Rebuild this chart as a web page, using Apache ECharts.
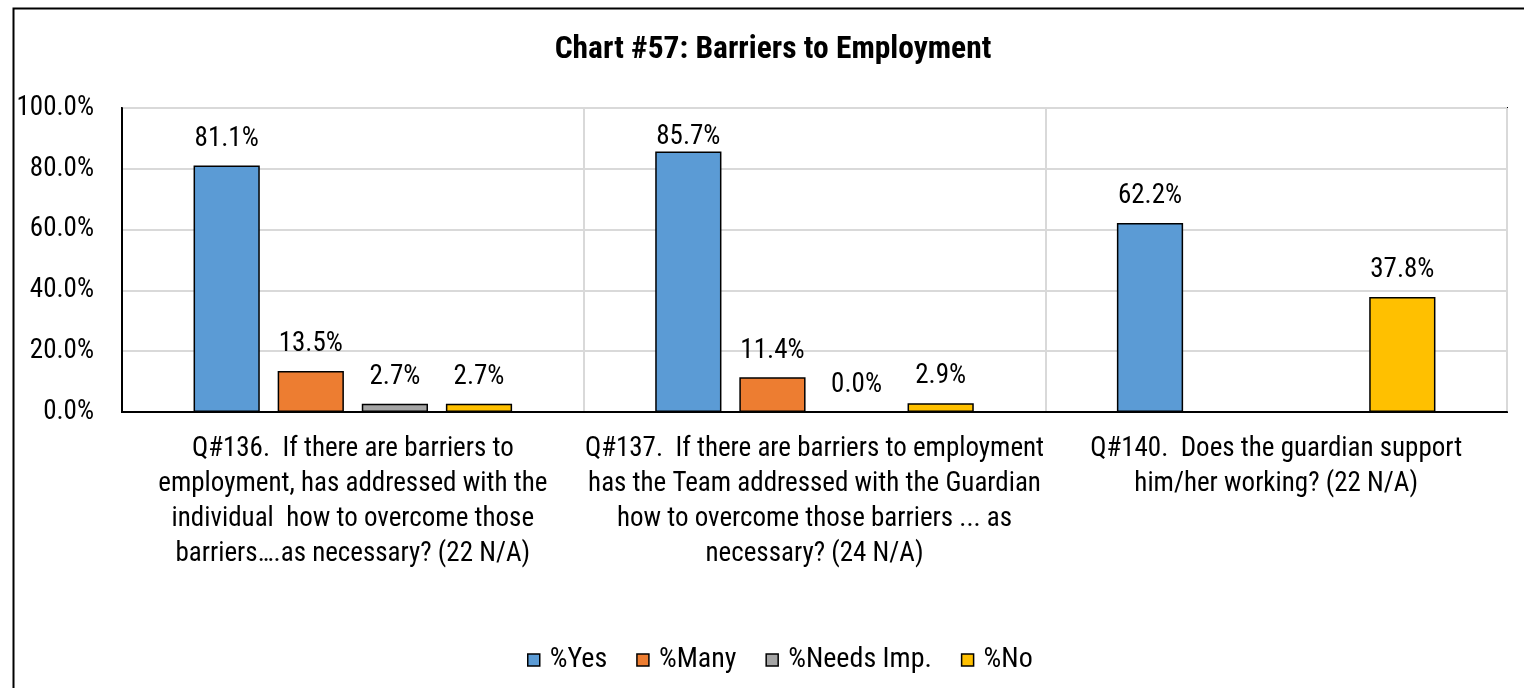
<!DOCTYPE html>
<html>
<head>
<meta charset="utf-8">
<title>Chart #57: Barriers to Employment</title>
<script src="https://cdn.jsdelivr.net/npm/echarts@6/dist/echarts.min.js"></script>
<style>
  html, body { margin: 0; padding: 0; background: #fff; }
  #chart { width: 1524px; height: 688px; }
</style>
</head>
<body>
<div id="chart"></div>
<script>
// Survey questions (x-axis categories)
const categories = [
  'Q#136.  If there are barriers to\nemployment, has addressed with the\nindividual  how to overcome those\nbarriers\u2026.as necessary? (22 N/A)',
  'Q#137.  If there are barriers to employment\nhas the Team addressed with the Guardian\nhow to overcome those barriers ... as\nnecessary? (24 N/A)',
  'Q#140.  Does the guardian support\nhim/her working? (22 N/A)'
];

// Percent of responses per answer
const yesValues = [81.1, 85.7, 62.2];
const manyValues = [13.5, 11.4, null];
const needsImpValues = [2.7, 0.0, null];
const noValues = [2.7, 2.9, 37.8];

const seriesNames = ['%Yes', '%Many', '%Needs Imp.', '%No'];
const seriesColors = ['#5B9BD5', '#ED7D31', '#A5A5A5', '#FFC000'];

const yTicks = [0, 20, 40, 60, 80, 100];

const FONT = "'Roboto Condensed', 'Liberation Sans', Arial, sans-serif";
const FS = 27;

const chart = echarts.init(document.getElementById('chart'), null, { renderer: 'canvas' });

function makeSeries(name, values, color) {
  return {
    name: name,
    type: 'bar',
    barGap: '27%',
    barCategoryGap: '31%',
    itemStyle: { color: color, borderColor: '#000', borderWidth: 1.5 },
    label: {
      show: true,
      position: 'top',
      distance: 13,
      color: '#000',
      fontFamily: FONT,
      fontSize: FS,
      formatter: p => (p.value == null ? '' : p.value.toFixed(1) + '%')
    },
    // a label that would run past the top of the plot sits right on its bar
    data: values.map(v => (v != null && v > 84 ? { value: v, label: { distance: 1 } } : v))
  };
}

const option = {
  animation: false,
  textStyle: { fontFamily: FONT },
  title: {
    text: 'Chart #57: Barriers to Employment',
    left: 768,
    top: 29,
    textAlign: 'center',
    textStyle: { fontFamily: FONT, fontSize: 31.5, fontWeight: 'bold', color: '#000' }
  },
  legend: {
    bottom: 9,
    left: 522,
    itemWidth: 12,
    itemHeight: 12,
    itemGap: 29,
    icon: 'rect',
    itemStyle: { borderColor: '#000', borderWidth: 1.5 },
    textStyle: { fontFamily: FONT, fontSize: 28, color: '#000', padding: [0, 0, 0, 5] },
    data: seriesNames
  },
  grid: {
    left: 122,
    right: 17,
    top: 108,
    bottom: 276,
    show: true,
    borderColor: '#000',
    borderWidth: 2,
    backgroundColor: 'transparent'
  },
  xAxis: {
    type: 'category',
    data: categories,
    axisLine: { show: true, lineStyle: { color: '#000', width: 2 } },
    axisTick: { show: false },
    splitLine: { show: true, interval: 0, lineStyle: { color: '#D9D9D9', width: 2 } },
    axisLabel: {
      interval: 0,
      margin: 20,
      color: '#000',
      fontFamily: FONT,
      fontSize: FS,
      lineHeight: 35,
      align: 'center'
    }
  },
  yAxis: {
    type: 'value',
    min: yTicks[0],
    max: yTicks[yTicks.length - 1],
    interval: yTicks[1] - yTicks[0],
    axisLine: { show: true, lineStyle: { color: '#000', width: 2 } },
    axisTick: { show: false },
    splitLine: { show: true, lineStyle: { color: '#D9D9D9', width: 2 } },
    axisLabel: {
      margin: 28,
      color: '#000',
      fontFamily: FONT,
      fontSize: FS,
      formatter: v => v.toFixed(1) + '%'
    }
  },
  graphic: [{
    type: 'rect',
    left: 11,
    top: 6,
    shape: { width: 1540, height: 720 },
    style: { fill: 'none', stroke: '#000', lineWidth: 2 },
    silent: true,
    z: -1
  }],
  series: [
    makeSeries(seriesNames[0], yesValues, seriesColors[0]),
    makeSeries(seriesNames[1], manyValues, seriesColors[1]),
    makeSeries(seriesNames[2], needsImpValues, seriesColors[2]),
    makeSeries(seriesNames[3], noValues, seriesColors[3])
  ]
};

chart.setOption(option);
</script>
</body>
</html>
